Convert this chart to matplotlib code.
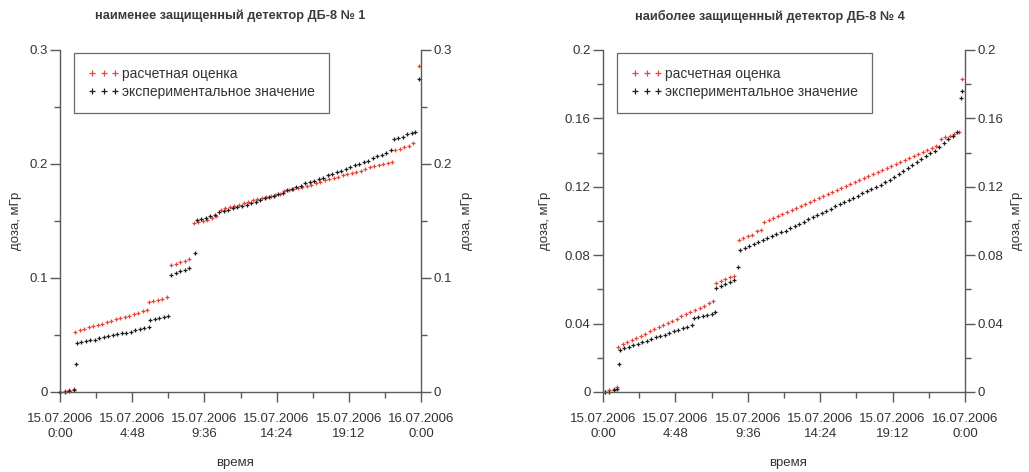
import matplotlib
matplotlib.use("Agg")
import matplotlib.pyplot as plt
from matplotlib.ticker import MultipleLocator

plt.rcParams['font.family'] = ['Liberation Sans', 'DejaVu Sans']

# time in hours from 15.07.2006 0:00
xtick_labels = ["15.07.2006\n0:00", "15.07.2006\n4:48", "15.07.2006\n9:36",
                "15.07.2006\n14:24", "15.07.2006\n19:12", "16.07.2006\n0:00"]
xtick_pos = [0, 4.8, 9.6, 14.4, 19.2, 24]

titles = ["наименее защищенный детектор ДБ-8 № 1",
          "наиболее защищенный детектор ДБ-8 № 4"]
series_names = ["расчетная оценка", "экспериментальное значение"]

# --- detector 1 (left) ---
d1_calc_t = [0.0, 0.3, 0.6, 0.9,
             1.0, 1.3, 1.6, 1.9, 2.2, 2.5, 2.8, 3.1, 3.4, 3.7, 4.0, 4.3, 4.6, 4.9, 5.2, 5.5, 5.8,
             5.9, 6.2, 6.5, 6.8, 7.1,
             7.4, 7.7, 8.0, 8.3, 8.6,
             8.9, 9.2, 9.5, 9.8, 10.1, 10.4,
             10.7, 11.0, 11.3, 11.6, 11.9, 12.2, 12.5, 12.8, 13.1, 13.4, 13.7, 14.0, 14.3,
             14.6, 14.9, 15.2, 15.5, 15.8, 16.1, 16.4, 16.7, 17.0, 17.3, 17.6, 17.9, 18.2,
             18.5, 18.8, 19.1, 19.4, 19.7, 20.0, 20.3, 20.6, 20.9, 21.2, 21.5, 21.8, 22.1,
             22.3, 22.6, 22.9, 23.2, 23.5,
             23.9]
d1_calc = [0.000, 0.001, 0.002, 0.003,
           0.053, 0.054, 0.055, 0.057, 0.058, 0.059, 0.060, 0.061, 0.062, 0.064, 0.065, 0.066, 0.067, 0.068, 0.069, 0.071, 0.072,
           0.079, 0.080, 0.081, 0.082, 0.083,
           0.111, 0.112, 0.114, 0.115, 0.117,
           0.148, 0.149, 0.150, 0.151, 0.153, 0.154,
           0.160, 0.161, 0.162, 0.163, 0.164, 0.166, 0.167, 0.168, 0.169, 0.170, 0.171, 0.172, 0.173,
           0.174, 0.176, 0.177, 0.178, 0.179, 0.180, 0.181, 0.182, 0.183, 0.184, 0.186, 0.187, 0.188,
           0.189, 0.190, 0.191, 0.192, 0.193, 0.194, 0.196, 0.197, 0.198, 0.199, 0.200, 0.201, 0.202,
           0.212, 0.213, 0.215, 0.216, 0.218,
           0.286]

d1_meas_t = [0.0, 0.3, 0.6, 0.9, 1.05,
             1.1, 1.4, 1.7, 2.0, 2.3, 2.6, 2.9, 3.2, 3.5, 3.8, 4.1, 4.4, 4.7, 5.0, 5.3, 5.6, 5.9,
             6.0, 6.3, 6.6, 6.9, 7.2,
             7.4, 7.7, 8.0, 8.3, 8.6, 8.95,
             9.1, 9.4, 9.7, 10.0, 10.3,
             10.6, 10.9, 11.2, 11.5, 11.8, 12.1, 12.4, 12.7, 13.0, 13.3, 13.6, 13.9, 14.2,
             14.5, 14.8, 15.1, 15.4, 15.7, 16.0, 16.3, 16.6, 16.9, 17.2, 17.5, 17.8, 18.1,
             18.4, 18.7, 19.0, 19.3, 19.6, 19.9, 20.2, 20.5, 20.8, 21.1, 21.4, 21.7, 22.0,
             22.2, 22.5, 22.8, 23.1, 23.4, 23.6,
             23.9]
d1_meas = [0.000, 0.000, 0.001, 0.002, 0.025,
           0.043, 0.044, 0.045, 0.046, 0.046, 0.047, 0.048, 0.049, 0.050, 0.051, 0.052, 0.052, 0.053, 0.054, 0.055, 0.056, 0.057,
           0.063, 0.064, 0.065, 0.066, 0.067,
           0.103, 0.104, 0.106, 0.107, 0.109, 0.122,
           0.151, 0.152, 0.153, 0.154, 0.155,
           0.158, 0.159, 0.160, 0.161, 0.162, 0.163, 0.164, 0.166, 0.167, 0.168, 0.170, 0.171, 0.172,
           0.174, 0.175, 0.177, 0.178, 0.180, 0.181, 0.183, 0.184, 0.185, 0.187, 0.188, 0.190, 0.191,
           0.193, 0.194, 0.196, 0.197, 0.199, 0.200, 0.202, 0.203, 0.205, 0.207, 0.208, 0.210, 0.212,
           0.222, 0.223, 0.224, 0.226, 0.227, 0.228,
           0.275]

# --- detector 4 (right) ---
d4_calc_t = [0.1, 0.4, 0.7, 0.9,
             1.0, 1.3, 1.6, 1.9, 2.2, 2.5, 2.8, 3.1, 3.4, 3.7, 4.0, 4.3, 4.6, 4.9, 5.2, 5.5,
             5.8, 6.1, 6.4, 6.7, 7.0, 7.3,
             7.5, 7.8, 8.1, 8.4, 8.7,
             9.0, 9.3, 9.6, 9.9, 10.2, 10.5,
             10.7, 11.0, 11.3, 11.6, 11.9, 12.2, 12.5, 12.8, 13.1, 13.4, 13.7, 14.0, 14.3,
             14.6, 14.9, 15.2, 15.5, 15.8, 16.1, 16.4, 16.7, 17.0, 17.3, 17.6, 17.9, 18.2,
             18.5, 18.8, 19.1, 19.4, 19.7, 20.0, 20.3, 20.6, 20.9, 21.2, 21.5, 21.8, 22.1,
             22.4, 22.7, 23.0, 23.3, 23.6,
             23.8]
d4_calc = [0.000, 0.001, 0.002, 0.003,
           0.0265, 0.0278, 0.0290, 0.0303, 0.0316, 0.0328, 0.0341, 0.0354, 0.0366, 0.0379, 0.0391, 0.0404,
           0.0417, 0.0429, 0.0442, 0.0455, 0.0467, 0.0480, 0.0492, 0.0505, 0.0518, 0.0530,
           0.064, 0.065, 0.066, 0.067, 0.068,
           0.089, 0.090, 0.091, 0.092, 0.094, 0.095,
           0.0995, 0.1007, 0.1018, 0.1030, 0.1041, 0.1053, 0.1065, 0.1076, 0.1088, 0.1099, 0.1111, 0.1123, 0.1134,
           0.1146, 0.1157, 0.1169, 0.1181, 0.1192, 0.1204, 0.1215, 0.1227, 0.1239, 0.1250, 0.1262, 0.1273, 0.1285,
           0.1297, 0.1308, 0.1320, 0.1331, 0.1343, 0.1355, 0.1366, 0.1378, 0.1389, 0.1401, 0.1413, 0.1424, 0.1436,
           0.148, 0.149, 0.150, 0.151, 0.152,
           0.183]

d4_meas_t = [0.1, 0.4, 0.7, 0.9, 1.06,
             1.1, 1.4, 1.7, 2.0, 2.3, 2.6, 2.9, 3.2, 3.5, 3.8, 4.1, 4.4, 4.7, 5.0, 5.3, 5.6, 5.9,
             6.0, 6.3, 6.6, 6.9, 7.2, 7.4,
             7.5, 7.8, 8.1, 8.4, 8.7, 8.95,
             9.1, 9.4, 9.7, 10.0, 10.3, 10.6, 10.9, 11.2, 11.5, 11.8, 12.1,
             12.4, 12.7, 13.0, 13.3, 13.6, 13.9, 14.2, 14.5, 14.8, 15.1, 15.4,
             15.7, 16.0, 16.3, 16.6, 16.9, 17.2, 17.5, 17.8, 18.1, 18.4, 18.7,
             19.0, 19.3, 19.6, 19.9, 20.2, 20.5, 20.8, 21.1, 21.4, 21.7, 22.0,
             22.3, 22.6, 22.9, 23.2, 23.5,
             23.75, 23.8]
d4_meas = [0.000, 0.000, 0.001, 0.002, 0.0165,
           0.0247, 0.0256, 0.0265, 0.0274, 0.0283, 0.0292, 0.0301, 0.0310, 0.0319, 0.0327, 0.0336, 0.0345,
           0.0354, 0.0363, 0.0372, 0.0381, 0.0390,
           0.0435, 0.0441, 0.0447, 0.0453, 0.0459, 0.0465,
           0.0606, 0.0618, 0.0630, 0.0642, 0.0655, 0.073,
           0.0830, 0.0841, 0.0853, 0.0864, 0.0876, 0.0887, 0.0899, 0.0910, 0.0922, 0.0933, 0.0944,
           0.0957, 0.0970, 0.0983, 0.0996, 0.1009, 0.1022, 0.1034, 0.1047, 0.1060, 0.1073, 0.1086,
           0.1098, 0.1111, 0.1124, 0.1136, 0.1149, 0.1162, 0.1174, 0.1187, 0.1200, 0.1213, 0.1226,
           0.1242, 0.1259, 0.1276, 0.1293, 0.1310, 0.1327, 0.1344, 0.1361, 0.1378, 0.1395, 0.1412,
           0.1434, 0.1456, 0.1478, 0.1500, 0.1522,
           0.172, 0.176]

red = '#e8453c'
blk = '#1e1e1e'
grey = '#5a5a5a'
txt = '#333333'

W, H = 1029, 472
fig = plt.figure(figsize=(W / 100, H / 100), dpi=100)

# pixel layout: (left, right) of each panel, shared top/bottom
panels = [
    dict(px=(60, 421), ymax=0.3, major=0.1, minor=0.05,
         calc=(d1_calc_t, d1_calc), meas=(d1_meas_t, d1_meas),
         title_x=230, ylab_x=(16, 467), xlab_x=235),
    dict(px=(603, 965), ymax=0.2, major=0.04, minor=0.02,
         calc=(d4_calc_t, d4_calc), meas=(d4_meas_t, d4_meas),
         title_x=770, ylab_x=(545, 1017), xlab_x=788),
]
top_px, bot_px = 50, 392

for i, p in enumerate(panels):
    x0, x1 = p['px']
    ax = fig.add_axes([x0 / W, 1 - bot_px / H, (x1 - x0) / W, (bot_px - top_px) / H])
    ax.plot(*p['calc'], linestyle='none', marker='+', ms=3.2, mew=0.9, color=red,
            label=series_names[0], clip_on=False)
    ax.plot(*p['meas'], linestyle='none', marker='+', ms=3.2, mew=0.9, color=blk,
            label=series_names[1], clip_on=False)
    ax.set_xlim(0, 24)
    ax.set_ylim(0, p['ymax'])

    ax.spines['top'].set_visible(False)
    for s in ['left', 'right', 'bottom']:
        ax.spines[s].set_color(grey)
        ax.spines[s].set_linewidth(1.0)

    ax.set_xticks(xtick_pos)
    ax.set_xticklabels(xtick_labels, linespacing=1.35)
    ax.xaxis.set_minor_locator(MultipleLocator(2.4))
    yt = [k * p['major'] for k in range(int(round(p['ymax'] / p['major'])) + 1)]
    ax.set_yticks(yt)
    ax.set_yticklabels(['{:g}'.format(round(v, 3)) for v in yt])
    ax.yaxis.set_minor_locator(MultipleLocator(p['minor']))

    ax.tick_params(which='both', direction='out', color=grey, width=1.0,
                   labelsize=9.5, labelcolor=txt, left=True, right=True,
                   labelleft=True, labelright=True)
    ax.tick_params(which='major', length=7, pad=2)
    ax.tick_params(which='minor', length=4)
    ax.tick_params(axis='x', pad=8)

    for lx in p['ylab_x']:
        fig.text(lx / W, 1 - 221 / H, 'доза, мГр', rotation=90, ha='center', va='center',
                 fontsize=9.5, color=txt)
    fig.text(p['xlab_x'] / W, 1 - 463 / H, 'время', ha='center', va='center',
             fontsize=9.5, color=txt)

    leg = ax.legend(loc='upper left', bbox_to_anchor=(0.038, 0.991), numpoints=3,
                    markerscale=1.5, fontsize=10, frameon=True, fancybox=False,
                    edgecolor='#444444', handlelength=2.3, handletextpad=0.2,
                    borderpad=1.0, labelspacing=0.3, borderaxespad=0)
    leg.get_frame().set_linewidth(0.9)
    for t in leg.get_texts():
        t.set_color(txt)

    fig.text(p['title_x'] / W, 1 - 16 / H, titles[i], ha='center', va='center',
             fontsize=9.2, color='#3a3a3a', fontweight='bold')

fig.savefig('out.png', dpi=100)
